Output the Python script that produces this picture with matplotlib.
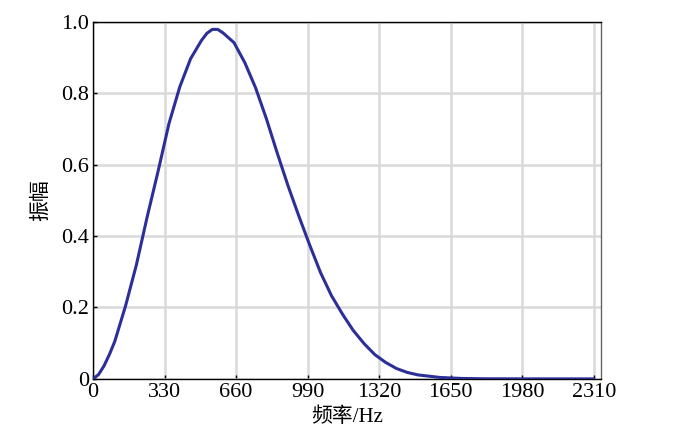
import numpy as np
import matplotlib.pyplot as plt

# amplitude spectrum
freq = [0, 25, 50, 75, 100, 150, 200, 250, 300, 350, 400, 450, 500, 525,
        550, 575, 600, 650, 700, 750, 800, 850, 900, 950, 1000, 1050, 1100,
        1150, 1200, 1250, 1300, 1350, 1400, 1450, 1500, 1600, 1700, 1800,
        2000, 2200, 2310]
amp = [0, 0.012, 0.036, 0.068, 0.105, 0.205, 0.32, 0.455, 0.582, 0.715,
       0.818, 0.897, 0.948, 0.968, 0.979, 0.979, 0.969, 0.942, 0.886, 0.815,
       0.728, 0.632, 0.54, 0.455, 0.374, 0.297, 0.233, 0.182, 0.136, 0.099,
       0.068, 0.046, 0.029, 0.018, 0.011, 0.004, 0.0012, 0.0003, 0, 0, 0]

xticks = [0, 330, 660, 990, 1320, 1650, 1980, 2310]
yticks = [0, 0.2, 0.4, 0.6, 0.8, 1.0]
ytick_labels = ["0", "0.2", "0.4", "0.6", "0.8", "1.0"]

fonts = ["Liberation Serif", "Noto Sans CJK SC"]
plt.rcParams["font.family"] = fonts

fig = plt.figure(figsize=(7, 4.38), dpi=100)
ax = fig.add_axes([0.133, 0.135, 0.726, 0.815])

ax.plot(freq, amp, color="#2b2f98", lw=2.2, zorder=3)

ax.set_xlim(0, 2345)
ax.set_ylim(0, 1.0)
ax.set_xticks(xticks)
ax.set_xticklabels([str(t) for t in xticks])
ax.set_yticks(yticks)
ax.set_yticklabels(ytick_labels)
ax.tick_params(direction="in", length=3, width=1, labelsize=16, pad=3)

ax.grid(True, color="#d9d9d9", lw=1.8)
ax.set_axisbelow(True)

for s in ["left", "bottom", "top"]:
    ax.spines[s].set_color("black")
    ax.spines[s].set_linewidth(1.0)
ax.spines["right"].set_color("#666666")
ax.spines["right"].set_linewidth(1.0)

ax.set_xlabel("频率/Hz", fontsize=15, family=fonts, labelpad=4)
ax.set_ylabel("振幅", fontsize=15, family=fonts, labelpad=7)

fig.savefig("out.png", dpi=100)
